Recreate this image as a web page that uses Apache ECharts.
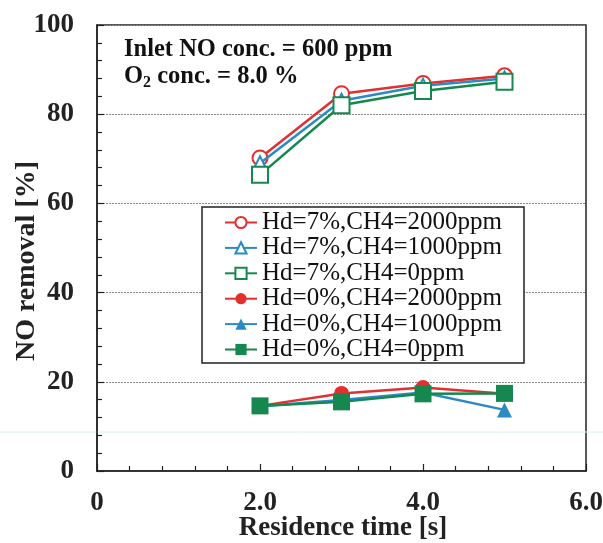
<!DOCTYPE html>
<html><head><meta charset="utf-8">
<script src="https://cdn.jsdelivr.net/npm/echarts@6/dist/echarts.min.js"></script>
<style>html,body{margin:0;padding:0;background:#fff}#c{width:603px;height:543px}</style>
</head><body><div id="c"></div>
<script>
const xValues = [2, 3, 4, 5];
const seriesNames = ['Hd=7%,CH4=2000ppm','Hd=7%,CH4=1000ppm','Hd=7%,CH4=0ppm','Hd=0%,CH4=2000ppm','Hd=0%,CH4=1000ppm','Hd=0%,CH4=0ppm'];
const hd7_ch4_2000 = [70.2, 84.6, 86.9, 88.6];
const hd7_ch4_1000 = [69.0, 83.0, 86.4, 88.0];
const hd7_ch4_0 = [66.4, 82.0, 85.2, 87.3];
const hd0_ch4_2000 = [14.6, 17.4, 18.7, 17.3];
const hd0_ch4_1000 = [14.5, 15.9, 17.6, 13.7];
const hd0_ch4_0 = [14.6, 15.5, 17.3, 17.4];
const yTicks = [0, 20, 40, 60, 80, 100];
const xTicks = [0, 2, 4, 6];

const RED = '#e2302f', BLUE = '#2b8ac3', GREEN = '#16874e';
const serif = '"Liberation Serif","DejaVu Serif",serif';
const allData = [hd7_ch4_2000, hd7_ch4_1000, hd7_ch4_0, hd0_ch4_2000, hd0_ch4_1000, hd0_ch4_0];
const styles = [
  {c: RED, s: 'emptyCircle', size: 15},
  {c: BLUE, s: 'emptyTriangle', size: 14},
  {c: GREEN, s: 'emptyRect', size: 16},
  {c: RED, s: 'circle', size: 15},
  {c: BLUE, s: 'triangle', size: 15},
  {c: GREEN, s: 'rect', size: 17}
];
const series = allData.map((d, i) => ({
  name: seriesNames[i],
  type: 'line',
  data: d.map((v, j) => [xValues[j], v]),
  symbol: styles[i].s,
  symbolSize: styles[i].size,
  lineStyle: {color: styles[i].c, width: 2.5},
  itemStyle: {color: styles[i].c, borderWidth: 1.6},
  emphasis: {disabled: true},
  z: 2 + i
}));

const chart = echarts.init(document.getElementById('c'), null, {renderer: 'canvas'});
chart.setOption({
  animation: false,
  backgroundColor: '#fff',
  grid: {left: 97, top: 25, right: 17, bottom: 72, outerBoundsMode: 'none', containLabel: false,
    show: true, borderColor: '#222', borderWidth: 1.5, backgroundColor: 'transparent'},
  legend: {
    orient: 'vertical', left: 202, top: 207,
    padding: [3, 22, 1, 22], itemGap: 0.4, itemWidth: 32, itemHeight: 14,
    backgroundColor: '#fff', borderColor: '#222', borderWidth: 1.5,
    textStyle: {fontFamily: serif, fontSize: 25, color: '#111', lineHeight: 25},
    data: seriesNames
  },
  xAxis: {
    type: 'value', min: 0, max: 6, interval: 2,
    axisLine: {show: true, lineStyle: {color: '#222', width: 1.5}},
    axisTick: {inside: true, length: 7, lineStyle: {color: '#222', width: 1.2}},
    minorTick: {show: true, splitNumber: 5, length: 5, lineStyle: {color: '#222', width: 1.2}},
    splitLine: {show: false},
    axisLabel: {fontFamily: serif, fontSize: 27, fontWeight: 'bold', color: '#222', margin: 19,
      formatter: v => xTicks.includes(v) ? (v === 0 ? '0' : v.toFixed(1)) : ''}
  },
  yAxis: {
    type: 'value', min: 0, max: 100, interval: 20,
    axisLine: {show: true, lineStyle: {color: '#222', width: 1.5}},
    axisTick: {inside: true, length: 7, lineStyle: {color: '#222', width: 1.2}},
    minorTick: {show: true, splitNumber: 5, length: 5, lineStyle: {color: '#222', width: 1.2}},
    splitLine: {show: true, lineStyle: {color: '#888', type: [2, 1], width: 1}},
    axisLabel: {fontFamily: serif, fontSize: 27, fontWeight: 'bold', color: '#222', margin: 23,
      formatter: v => yTicks.includes(v) ? String(v) : ''}
  },
  graphic: [
    {type: 'text', x: 27, y: 261, rotation: Math.PI / 2, z: 10, style: {
      text: 'NO removal [%]', font: 'bold 28px ' + serif, fill: '#222', align: 'center', verticalAlign: 'middle'}},
    {type: 'text', x: 343, y: 528, z: 10, style: {
      text: 'Residence time [s]', font: 'bold 27px ' + serif, fill: '#222', align: 'center', verticalAlign: 'middle'}},
    {type: 'text', left: 124, top: 37, z: 10, style: {
      text: 'Inlet NO conc. = 600 ppm', font: 'bold 24.5px ' + serif, fill: '#111'}},
    {type: 'text', left: 124, top: 64, z: 10, style: {
      text: '{b|O}{s|2}{b| conc. = 8.0 %}', font: 'bold 24.5px ' + serif, fill: '#111',
      rich: {b: {font: 'bold 24.5px ' + serif, fill: '#111'}, s: {font: 'bold 16px ' + serif, fill: '#111', padding: [12, 0, 0, 0]}}}},
    {type: 'line', z: 0, shape: {x1: 0, y1: 432, x2: 603, y2: 432}, style: {stroke: '#d8f0f0', lineWidth: 1}}
  ],
  series: series
});
</script></body></html>
